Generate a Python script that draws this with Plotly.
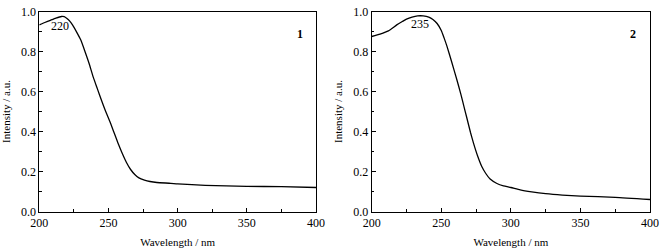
import plotly.graph_objects as go

wl1 = [200, 204, 208, 212, 216, 218, 220, 222, 224, 227, 230, 233, 236, 239, 242, 245, 248, 251, 254, 257, 260, 263, 266, 269, 272, 276, 280, 285, 295, 300, 320, 350, 375, 400]
int1 = [0.933, 0.945, 0.956, 0.967, 0.975, 0.974, 0.965, 0.952, 0.933, 0.897, 0.857, 0.8, 0.74, 0.672, 0.613, 0.555, 0.5, 0.45, 0.395, 0.34, 0.29, 0.245, 0.21, 0.185, 0.168, 0.157, 0.15, 0.145, 0.141, 0.138, 0.131, 0.126, 0.124, 0.12]

wl2 = [200, 206, 212, 218, 222, 225, 229, 233, 237, 241, 244, 247, 250, 252, 254, 257.6, 261.2, 264, 266.4, 268.3, 271, 273.1, 276, 279.1, 282, 285.1, 290, 294.7, 300, 306.7, 315, 325, 337, 350, 375, 400]
int2 = [0.875, 0.887, 0.903, 0.933, 0.95, 0.962, 0.972, 0.978, 0.978, 0.972, 0.96, 0.94, 0.905, 0.868, 0.828, 0.745, 0.659, 0.588, 0.522, 0.47, 0.395, 0.343, 0.28, 0.225, 0.19, 0.162, 0.14, 0.128, 0.12, 0.108, 0.098, 0.089, 0.082, 0.077, 0.071, 0.06]

peak_labels = ["220", "235"]
panel_labels = ["1", "2"]
xticks = [200, 250, 300, 350, 400]
yticks = [0.0, 0.2, 0.4, 0.6, 0.8, 1.0]

FONT = "Liberation Serif"
W, H = 664, 251

fig = go.Figure()
line = dict(color="black", width=1.3, shape="spline", smoothing=0.5)
fig.add_trace(go.Scatter(x=wl1, y=int1, mode="lines", line=line, xaxis="x", yaxis="y", showlegend=False))
fig.add_trace(go.Scatter(x=wl2, y=int2, mode="lines", line=line, xaxis="x2", yaxis="y2", showlegend=False))

ydom = [1 - 211.5 / H, 1 - 11.5 / H]
axcommon = dict(showline=True, linecolor="black", linewidth=1, mirror=True, ticks="inside", ticklen=4,
                tickcolor="black", showgrid=False, zeroline=False, automargin=False, ticklabeloverflow="allow",
                tickfont=dict(family=FONT, size=12, color="black"))
xax = dict(axcommon, range=[200, 400], tickvals=xticks, minor=dict(dtick=25, ticks="inside", ticklen=2.5, tickcolor="black"),
           title=dict(text="Wavelength / nm", font=dict(family=FONT, size=11, color="black"), standoff=9))
yax = dict(axcommon, range=[0, 1.0], tickvals=yticks, tickformat=".1f", minor=dict(dtick=0.1, ticks="inside", ticklen=2.5, tickcolor="black"),
           title=dict(text="Intensity / a.u.", font=dict(family=FONT, size=11, color="black"), standoff=8))

fig.update_layout(
    width=W, height=H, margin=dict(l=0, r=0, t=0, b=0),
    paper_bgcolor="white", plot_bgcolor="white",
    xaxis=dict(xax, domain=[39.3 / W, 316 / W], anchor="y"),
    yaxis=dict(yax, domain=ydom, anchor="x"),
    xaxis2=dict(xax, domain=[371.7 / W, 650 / W], anchor="y2"),
    yaxis2=dict(yax, domain=ydom, anchor="x2"),
    annotations=[
        dict(x=215, y=0.925, xref="x", yref="y", text=peak_labels[0], showarrow=False, font=dict(family=FONT, size=12, color="black")),
        dict(x=234.7, y=0.935, xref="x2", yref="y2", text=peak_labels[1], showarrow=False, font=dict(family=FONT, size=12, color="black")),
        dict(x=0.96, y=0.93, xref="x domain", yref="y domain", text="<b>%s</b>" % panel_labels[0], showarrow=False, font=dict(family=FONT, size=12, color="black")),
        dict(x=0.957, y=0.93, xref="x2 domain", yref="y2 domain", text="<b>%s</b>" % panel_labels[1], showarrow=False, font=dict(family=FONT, size=12, color="black")),
    ],
)
fig.write_html("out.html", config={"displayModeBar": False}, post_script="document.body.style.margin='0px';")
